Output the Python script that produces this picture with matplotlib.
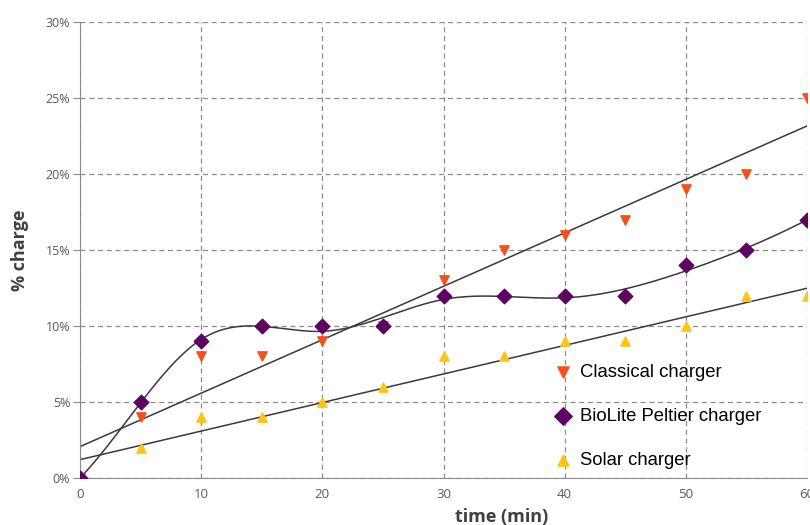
import numpy as np
import matplotlib
matplotlib.use('Agg')
import matplotlib.pyplot as plt
from matplotlib.ticker import PercentFormatter

time_min = [0, 5, 10, 15, 20, 25, 30, 35, 40, 45, 50, 55, 60]
classical = [0, 4, 8, 8, 9, 10, 13, 15, 16, 17, 19, 20, 25]
biolite = [0, 5, 9, 10, 10, 10, 12, 12, 12, 12, 14, 15, 17]
solar = [0, 2, 4, 4, 5, 6, 8, 8, 9, 9, 10, 12, 12]

c_red = '#F5501C'
c_purple = '#5E0262'
c_yellow = '#FFC416'


def spline_basis(t, knots):
    t = np.asarray(t, float)
    cols = [np.ones_like(t), t, t ** 2, t ** 3]
    cols += [np.clip(t - k, 0, None) ** 3 for k in knots]
    return np.column_stack(cols)


fig = plt.figure(figsize=(8.1, 5.25), dpi=100)
ax = fig.add_axes([0.0988, 0.0895, 0.8975, 0.8685])

x = np.array(time_min)
xs = np.linspace(0, 60, 400)

# linear trend lines
for ys in (classical, solar):
    k, b = np.polyfit(x, ys, 1)
    ax.plot(xs, k * xs + b, color='#3a3a3a', lw=1.1, zorder=2)

# smoothed curve for BioLite (least-squares cubic spline)
knots = [10, 20, 30, 40, 50]
coef, *_ = np.linalg.lstsq(spline_basis(x, knots), np.array(biolite, float), rcond=None)
ax.plot(xs, spline_basis(xs, knots) @ coef, color='#3a3a3a', lw=1.1, zorder=2)

ax.scatter(x, solar, marker='^', s=45, color=c_yellow, zorder=3, label='Solar charger')
ax.scatter(x, classical, marker='v', s=45, color=c_red, zorder=4, label='Classical charger')
ax.scatter(x, biolite, marker='D', s=55, color=c_purple, zorder=5, label='BioLite Peltier charger')

ax.set_xlim(0, 60)
ax.set_ylim(0, 30)
ax.set_xticks(range(0, 61, 10))
ax.set_yticks(range(0, 31, 5))
ax.yaxis.set_major_formatter(PercentFormatter(decimals=0))
ax.grid(True, ls=(0, (4, 3)), color='#8c8c8c', lw=0.9)
ax.set_axisbelow(True)
for s in ('top', 'right'):
    ax.spines[s].set_visible(False)
for s in ('left', 'bottom'):
    ax.spines[s].set_color('#8c8c8c')
ax.tick_params(axis='y', length=5, color='#8c8c8c', labelsize=9, labelcolor='#595959', pad=2)
ax.tick_params(axis='x', length=0, labelsize=9.5, labelcolor='#595959', pad=7)
for lab in ax.get_xticklabels() + ax.get_yticklabels():
    lab.set_family('Open Sans')

ax.set_xlabel('time (min)', fontsize=13, fontweight='bold', color='#404040', family='Open Sans')
ax.xaxis.set_label_coords(0.58, -0.065)
ax.set_ylabel('% charge', fontsize=13, fontweight='bold', color='#404040', family='Open Sans')
ax.yaxis.set_label_coords(-0.07, 0.5)

h, l = ax.get_legend_handles_labels()
order = [1, 2, 0]
ax.legend([h[i] for i in order], [l[i] for i in order], loc='lower left',
          bbox_to_anchor=(0.629, -0.016), frameon=False, handletextpad=0.4,
          labelspacing=1.45, prop={'family': 'Liberation Sans', 'size': 13.3},
          markerscale=1.2, handlelength=1.0)

fig.savefig('out.png', dpi=100)
